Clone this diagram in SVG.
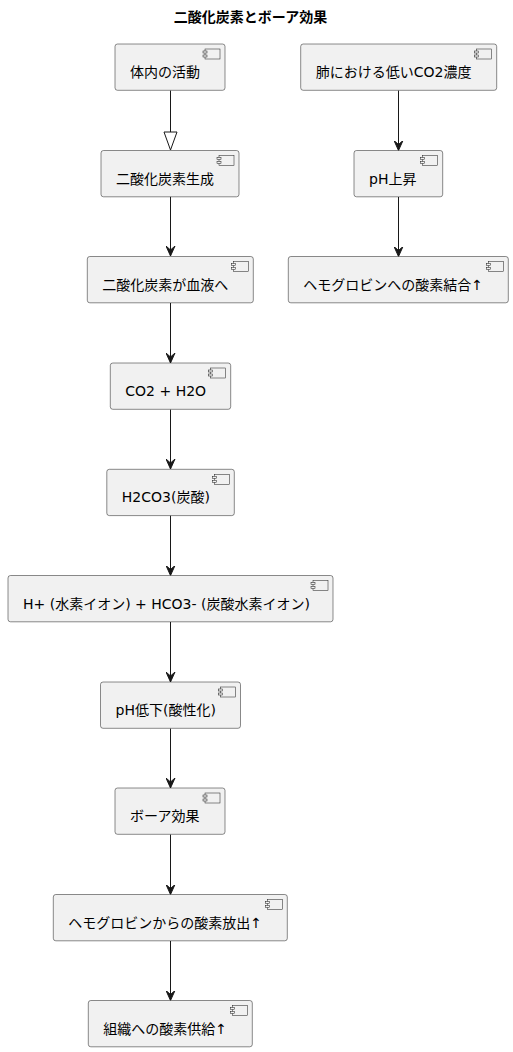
<svg xmlns="http://www.w3.org/2000/svg" width="513" height="1052" viewBox="0 0 513 1052">
<defs>
<style>
.box{fill:#F1F1F1;stroke:#181818;stroke-width:0.5}
.ic{fill:#F1F1F1;stroke:#181818;stroke-width:0.5}
.lbl{font-family:"DejaVu Sans","Noto Sans CJK JP",sans-serif;font-size:14px;fill:#000}
.title{font-family:"DejaVu Sans","Noto Sans CJK JP",sans-serif;font-size:14px;font-weight:bold;fill:#000}
.edge{stroke:#181818;stroke-width:1;fill:none}
</style>
<marker id="arr" viewBox="0 0 10 10" refX="10" refY="5" markerWidth="10" markerHeight="10" markerUnits="userSpaceOnUse" orient="auto">
<path d="M0,0.5 L10,5 L0,9.5 L4,5 Z" fill="#181818" stroke="#181818" stroke-width="1"/>
</marker>
<g id="icon">
<rect class="ic" x="-20" y="5" width="15" height="10"/>
<rect class="ic" x="-22" y="7" width="4" height="2"/>
<rect class="ic" x="-22" y="11" width="4" height="2"/>
</g>
</defs>
<rect width="513" height="1052" fill="#FFFFFF"/>
<text class="title" x="250.5" y="22" text-anchor="middle">二酸化炭素とボーア効果</text>

<g id="connectors">
<line class="edge" x1="170.5" y1="90.5" x2="170.5" y2="132"/>
<polygon points="164,132 177,132 170.5,150" fill="none" stroke="#181818" stroke-width="1"/>
<line class="edge" x1="170.5" y1="196.5" x2="170.5" y2="256" marker-end="url(#arr)"/>
<line class="edge" x1="170.5" y1="303" x2="170.5" y2="363" marker-end="url(#arr)"/>
<line class="edge" x1="170.5" y1="409.5" x2="170.5" y2="469" marker-end="url(#arr)"/>
<line class="edge" x1="170.5" y1="515.5" x2="170.5" y2="575.5" marker-end="url(#arr)"/>
<line class="edge" x1="170.5" y1="622" x2="170.5" y2="682" marker-end="url(#arr)"/>
<line class="edge" x1="170.5" y1="728.5" x2="170.5" y2="788" marker-end="url(#arr)"/>
<line class="edge" x1="170.5" y1="834.5" x2="170.5" y2="894.5" marker-end="url(#arr)"/>
<line class="edge" x1="170.5" y1="941" x2="170.5" y2="1000.5" marker-end="url(#arr)"/>
<line class="edge" x1="398.5" y1="90.5" x2="398.5" y2="150.5" marker-end="url(#arr)"/>
<line class="edge" x1="398.5" y1="197" x2="398.5" y2="256.5" marker-end="url(#arr)"/>
</g>

<g id="n1">
<rect class="box" x="115" y="44" width="110" height="46.3" rx="2.5"/>
<use href="#icon" x="225" y="44"/>
<text class="lbl" x="130" y="77">体内の活動</text>
</g>
<g id="n2">
<rect class="box" x="101" y="150.5" width="138" height="46.3" rx="2.5"/>
<use href="#icon" x="239" y="150.5"/>
<text class="lbl" x="116" y="183.5">二酸化炭素生成</text>
</g>
<g id="n3">
<rect class="box" x="87.3" y="256.5" width="166" height="46.3" rx="2.5"/>
<use href="#icon" x="253.3" y="256.5"/>
<text class="lbl" x="102.3" y="289.5">二酸化炭素が血液へ</text>
</g>
<g id="n4">
<rect class="box" x="110.3" y="363" width="120.4" height="46.3" rx="2.5"/>
<use href="#icon" x="230.7" y="363"/>
<text class="lbl" x="125.3" y="396">CO2 + H2O</text>
</g>
<g id="n5">
<rect class="box" x="106.8" y="469.3" width="127.5" height="46.3" rx="2.5"/>
<use href="#icon" x="234.3" y="469.3"/>
<text class="lbl" x="121.8" y="502.3">H2CO3(炭酸)</text>
</g>
<g id="n6">
<rect class="box" x="8" y="575.5" width="325" height="46.3" rx="2.5"/>
<use href="#icon" x="333" y="575.5"/>
<text class="lbl" x="23" y="608.5">H+ (水素イオン) + HCO3- (炭酸水素イオン)</text>
</g>
<g id="n7">
<rect class="box" x="100.5" y="682" width="140" height="46.3" rx="2.5"/>
<use href="#icon" x="240.5" y="682"/>
<text class="lbl" x="115.5" y="715">pH低下(酸性化)</text>
</g>
<g id="n8">
<rect class="box" x="115" y="788" width="110" height="46.3" rx="2.5"/>
<use href="#icon" x="225" y="788"/>
<text class="lbl" x="130" y="821">ボーア効果</text>
</g>
<g id="n9">
<rect class="box" x="53.3" y="894.5" width="234" height="46.3" rx="2.5"/>
<use href="#icon" x="287.3" y="894.5"/>
<text class="lbl" x="68.3" y="927.5">ヘモグロビンからの酸素放出↑</text>
</g>
<g id="n10">
<rect class="box" x="88.3" y="1000.5" width="164" height="46.3" rx="2.5"/>
<use href="#icon" x="252.3" y="1000.5"/>
<text class="lbl" x="103.3" y="1033.5">組織への酸素供給↑</text>
</g>
<g id="nA">
<rect class="box" x="300.7" y="44" width="196" height="46.3" rx="2.5"/>
<use href="#icon" x="496.7" y="44"/>
<text class="lbl" x="315.7" y="77">肺における低いCO2濃度</text>
</g>
<g id="nB">
<rect class="box" x="354" y="150.5" width="88.7" height="46.3" rx="2.5"/>
<use href="#icon" x="442.7" y="150.5"/>
<text class="lbl" x="369" y="183.5">pH上昇</text>
</g>
<g id="nC">
<rect class="box" x="288.3" y="256.5" width="220" height="46.3" rx="2.5"/>
<use href="#icon" x="508.3" y="256.5"/>
<text class="lbl" x="303.3" y="289.5">ヘモグロビンへの酸素結合↑</text>
</g>
</svg>
